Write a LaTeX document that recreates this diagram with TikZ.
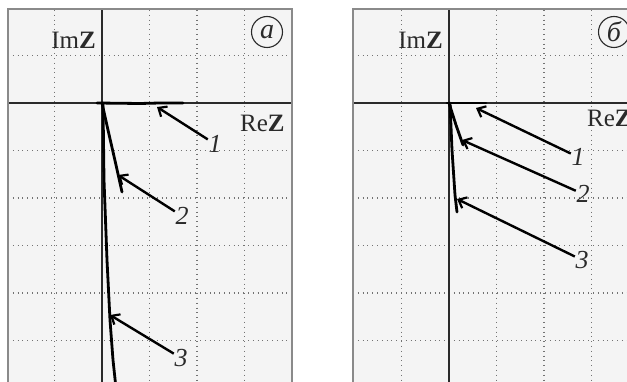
\documentclass[tikz,border=0pt]{standalone}
\usepackage{fontspec}
\setmainfont{Liberation Serif}
\usetikzlibrary{arrows.meta}
\definecolor{paper}{HTML}{F4F4F4}
\definecolor{framegray}{HTML}{8A8A8A}
\definecolor{ink}{HTML}{2A2A2A}
\tikzset{
  grid line/.style={black!55, line width=1.1pt, dash pattern=on 1pt off 3.8pt},
  axis line/.style={ink, line width=1.1pt},
  panel frame/.style={framegray, line width=2pt},
  trace/.style={black, line width=2.8pt, line cap=round, line join=round},
  pointer/.style={black, line width=2.4pt, -{Straight Barb[length=7pt,width=12pt,line width=2.2pt]}},
  num/.style={ink, font=\fontsize{26}{26}\selectfont\itshape, inner sep=0.5pt},
  axlabel/.style={ink, font=\fontsize{25}{25}\selectfont, inner sep=0pt},
  tagmark/.style={ink, circle, draw, line width=1.1pt, minimum size=31pt, inner sep=0pt, font=\fontsize{28}{28}\selectfont\itshape}
}
\begin{document}
\begin{tikzpicture}[x=1pt,y=-1pt]
\useasboundingbox (0,0) rectangle (627,382);
\pgfmathsetmacro{\cell}{47.5}
\foreach \ox/\fl/\fr/\ry/\tg/\i in {102/8/292/123/a/L, 449/353/640/118/б/R}{
  \fill[paper] (\fl,9) rectangle (\fr,400);
  \foreach \k in {-1,1,2,3}{\draw[grid line] (\ox+\k*\cell,10) -- (\ox+\k*\cell,382);}
  \foreach \k in {-1,1,2,3,4,5}{\draw[grid line] (\fl,103+\k*\cell) -- (\fr,103+\k*\cell);}
  \draw[axis line] (\ox,9) -- (\ox,382);
  \draw[axis line] (\fl,103) -- (\fr,103);
  \draw[panel frame] (\fl,400) -- (\fl,9) -- (\fr,9) -- (\fr,400);
  \node[axlabel, anchor=east] (im\i) at (\ox-6,40) {Im\textbf{Z}};
  \node[axlabel, anchor=west] (re\i) at (\ox+138,\ry) {Re\textbf{Z}};
  \node[tagmark] (tag\i) at (\ox+165,32) {\tg};
}
\draw[trace] (97,103) -- (140,103.5) -- (160,103) -- (183,103);
\draw[trace] (102,103) -- (108,130) -- (116,165) -- (122,192);
\draw[trace] (103,103) -- (104,180) -- (107,260) -- (110,320) -- (113,360) -- (116,388);
\draw[trace] (447,103) -- (486,103);
\draw[trace] (449,103) -- (456,125) -- (463,145);
\draw[trace] (450,103) -- (452,150) -- (455,195) -- (457,212);
\coordinate (hitL1) at (157,107);
\coordinate (hitL2) at (118,175);
\coordinate (hitL3) at (110,315);
\coordinate (hitR1) at (476,108);
\coordinate (hitR2) at (462,140);
\coordinate (hitR3) at (457,199);
\node[num] (numL1) at (215,144) {1};
\node[num] (numL2) at (182,216) {2};
\node[num] (numL3) at (181,358) {3};
\node[num] (numR1) at (578,157) {1};
\node[num] (numR2) at (583,194) {2};
\node[num] (numR3) at (582,260) {3};
\foreach \i in {L1,L2,L3,R1,R2,R3}{\draw[pointer] (num\i) -- (hit\i);}
\end{tikzpicture}
\end{document}
